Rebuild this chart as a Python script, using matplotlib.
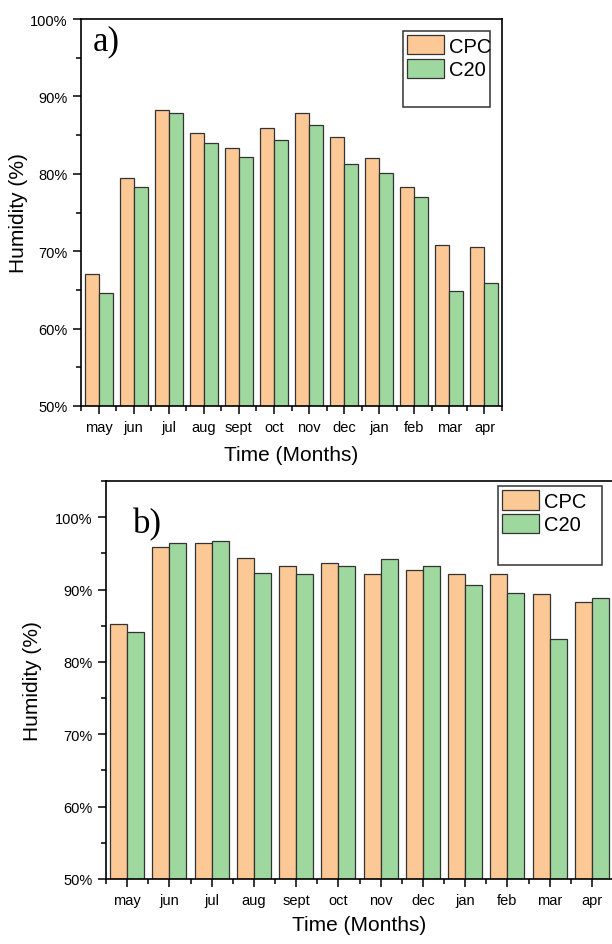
import matplotlib
matplotlib.use("Agg")
import matplotlib.pyplot as plt
import numpy as np
from matplotlib.patches import Patch, Rectangle
from matplotlib.ticker import PercentFormatter, MultipleLocator

months = ["may", "jun", "jul", "aug", "sept", "oct", "nov", "dec", "jan", "feb", "mar", "apr"]

# panel a
cpc_a = [67.1, 79.5, 88.3, 85.3, 83.3, 85.9, 87.8, 84.8, 82.1, 78.3, 70.8, 70.6]
c20_a = [64.6, 78.3, 87.9, 84.0, 82.2, 84.4, 86.3, 81.3, 80.1, 77.0, 64.8, 65.9]

# panel b
cpc_b = [85.2, 95.9, 96.5, 94.3, 93.2, 93.6, 92.2, 92.7, 92.1, 92.1, 89.4, 88.3]
c20_b = [84.2, 96.4, 96.7, 92.3, 92.2, 93.2, 94.2, 93.3, 90.6, 89.5, 83.2, 88.9]

orange = "#FCC895"
green = "#9FD89F"

plt.rcParams["font.family"] = ["Liberation Sans", "DejaVu Sans"]

fig = plt.figure(figsize=(6.12, 9.45), dpi=100)


def panel(rect, cpc, c20, ymax, tag, tag_xy, leg_box, ylab_x, xlab_y):
    ax = fig.add_axes(rect)
    x = np.arange(len(months))
    w = 0.4
    ax.bar(x - w / 2, np.array(cpc) - 50, w, bottom=50, color=orange,
           edgecolor="#333333", linewidth=0.9)
    ax.bar(x + w / 2, np.array(c20) - 50, w, bottom=50, color=green,
           edgecolor="#333333", linewidth=0.9)
    ax.set_xlim(-0.5, len(months) - 0.5)
    ax.set_ylim(50, ymax)
    ax.yaxis.set_major_locator(MultipleLocator(10))
    ax.yaxis.set_minor_locator(MultipleLocator(5))
    ax.yaxis.set_major_formatter(PercentFormatter(decimals=0))
    ax.set_xticks(x)
    ax.set_xticklabels(months)
    ax.set_xticks(np.arange(-0.5, len(months), 1.0), minor=True)
    ax.tick_params(axis="both", which="major", direction="out", length=6,
                   width=1.1, labelsize=10.5)
    ax.tick_params(axis="both", which="minor", direction="out", length=3.5, width=1.1)
    ax.tick_params(axis="x", which="major", pad=4)
    for s in ax.spines.values():
        s.set_linewidth(1.2)
    ax.set_ylabel("Humidity (%)", fontsize=15)
    ax.yaxis.set_label_coords(ylab_x, 0.5)
    ax.set_xlabel("Time (Months)", fontsize=15)
    ax.xaxis.set_label_coords(0.5, xlab_y)
    ax.text(tag_xy[0], tag_xy[1], tag, transform=ax.transAxes, fontsize=25,
            family="Liberation Serif", va="center", ha="left")
    # legend box (Origin style, with blank space below the entries)
    x0, y0, x1, y1 = leg_box
    ax.add_patch(Rectangle((x0, y0), x1 - x0, y1 - y0, transform=ax.transAxes,
                           facecolor="white", edgecolor="#333333", linewidth=1.1,
                           zorder=5))
    handles = [Patch(facecolor=orange, edgecolor="#333333", linewidth=0.9),
               Patch(facecolor=green, edgecolor="#333333", linewidth=0.9)]
    leg = ax.legend(handles, ["CPC", "C20"], loc="upper left",
                    bbox_to_anchor=(x0, y1), frameon=False, fontsize=14.5,
                    handlelength=1.85, handleheight=1.1, handletextpad=0.25,
                    labelspacing=0.15, borderpad=0.2, borderaxespad=0.0)
    leg.set_zorder(6)
    return ax


panel([81 / 612, 1 - 407 / 945, 421 / 612, 387 / 945], cpc_a, c20_a, 100,
      "a)", (0.029, 0.943), (0.765, 0.773, 0.971, 0.969), -0.126, -0.101)
panel([106 / 612, 1 - 880 / 945, 507 / 612, 398 / 945], cpc_b, c20_b, 105,
      "b)", (0.053, 0.892), (0.773, 0.789, 0.978, 0.987), -0.126, -0.090)

fig.savefig("out.png", dpi=100)
